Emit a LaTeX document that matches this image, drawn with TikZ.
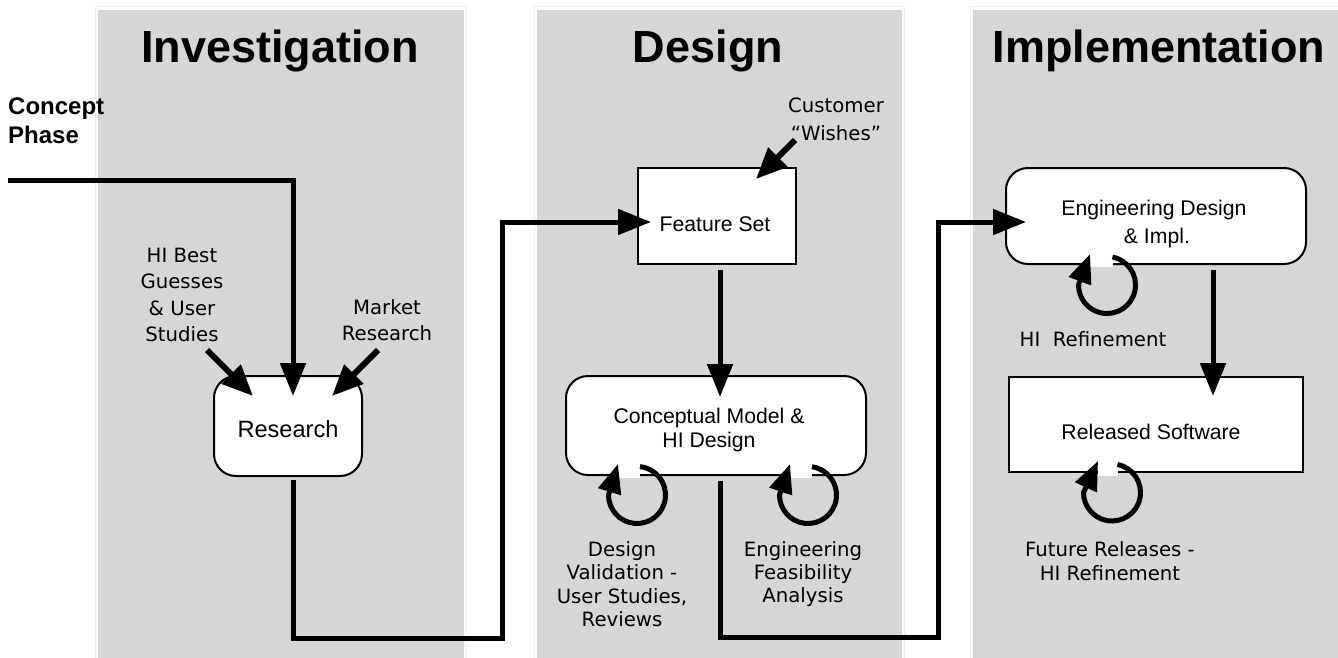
\documentclass[tikz,border=0pt]{standalone}
\usepackage{fontspec}
\setmainfont{Liberation Sans}
\newfontfamily\labfont{DejaVu Sans}
\usetikzlibrary{arrows.meta,calc}

\definecolor{panelgray}{HTML}{D6D6D6}
\definecolor{panelrim}{HTML}{EFEFEF}

\tikzset{
  panel/.style={fill=panelgray, draw=none},
  rim/.style={draw=panelrim, line width=1pt},
  phase/.style={font=\bfseries\fontsize{45}{54}\selectfont, anchor=base, inner sep=0},
  boxsq/.style={draw, line width=2pt, fill=white, inner sep=0},
  boxrd/.style={boxsq, rounded corners=22pt},
  boxtext/.style={font=\fontsize{21.2}{28}\selectfont, align=center, inner sep=0},
  lab/.style={font=\labfont\fontsize{19.7}{25}\selectfont, align=center, inner sep=0},
  flow/.style={line width=5pt, line join=miter, -{Triangle[length=33pt,width=25pt]}},
  feed/.style={line width=6pt, -{Triangle[length=31pt,width=26pt]}},
  selfarc/.style={line width=5pt, -{Triangle[length=29pt,width=23pt]}},
}

\begin{document}
\begin{tikzpicture}[x=1pt,y=-1pt]
\useasboundingbox (0,0) rectangle (1338,658);

% phase panels
\draw[rim] (95.5,7) rectangle (466.5,662);
\draw[rim] (534.5,7) rectangle (904.5,662);
\draw[rim] (970.5,7) rectangle (1342,662);
\fill[panel] (98,10) rectangle (464,658);
\fill[panel] (537,10) rectangle (902,658);
\fill[panel] (973,10) rectangle (1338,658);

\node[phase] (t-inv) at (280,63) {Investigation};
\node[phase] (t-des) at (708,63) {Design};
\node[phase] (t-imp) at (1159,63) {Implementation};

% boxes
\node[boxrd, minimum width=148pt, minimum height=100pt] (research) at (288,426) {};
\node[boxsq, minimum width=158pt, minimum height=96pt] (feature) at (717,216) {};
\node[boxrd, minimum width=300pt, minimum height=99pt] (concept) at (716,425.5) {};
\node[boxrd, minimum width=300pt, minimum height=96pt] (engdes) at (1156,216) {};
\node[boxsq, minimum width=294pt, minimum height=95pt] (released) at (1156,424.5) {};

\node[boxtext, font=\fontsize{23.6}{28}\selectfont] (research-t) at (288,429) {Research};
\node[boxtext] (feature-t) at (715,224) {Feature Set};
\node[boxtext, font=\fontsize{21.2}{24}\selectfont] (concept-t) at (709,430) {Conceptual Model \&\\HI Design};
\node[boxtext] (engdes-t) at (1154,224) {Engineering Design\\\ \& Impl.};
\node[boxtext] (released-t) at (1151,432) {Released Software};

% side labels
\node[anchor=base west, inner sep=0, font=\bfseries\fontsize{24}{29}\selectfont, align=left] (concept-phase) at (8,143) {Concept\\Phase};
\node[lab, font=\labfont\fontsize{19.7}{26.5}\selectfont] (hi-guess) at (182,295) {HI Best\\Guesses\\\& User\\Studies};
\node[lab, font=\labfont\fontsize{19.7}{26}\selectfont] (market) at (387,320) {Market\\Research};
\node[lab, font=\labfont\fontsize{19.7}{28}\selectfont] (wishes) at (836,119) {Customer\\“Wishes”};
\node[lab, font=\labfont\fontsize{19.7}{23.5}\selectfont] (validation) at (622,584) {Design\\Validation -\\User Studies,\\Reviews};
\node[lab, font=\labfont\fontsize{19.7}{23}\selectfont] (feasibility) at (803,574) {Engineering\\Feasibility\\Analysis};
\node[lab] (hi-refine) at (1093,339) {HI\ \ Refinement};
\node[lab, font=\labfont\fontsize{19.7}{24}\selectfont] (future) at (1110,561) {Future Releases -\\HI Refinement};

% free ends of the connectors
\coordinate (cp-start) at (8,180);
\coordinate (r2f-low) at (502,638);
\coordinate (c2e-low) at (938,637);
\coordinate (guess-tail) at (207,350);
\coordinate (market-tail) at (378,350);
\coordinate (wish-tail) at (795,140);

% main flow
\draw[flow] (cp-start) -| ([xshift=5pt,yshift=-21pt]research.north);
\draw[flow] ([xshift=5pt,yshift=-3pt]research.south) |- (r2f-low) |- ([xshift=14pt,yshift=-6pt]feature.west);
\draw[flow] ([xshift=3pt,yshift=-5pt]feature.south) -- ([xshift=4pt,yshift=-22pt]concept.north);
\draw[flow] ([xshift=4pt,yshift=-5pt]concept.south) |- (c2e-low) |- ([xshift=21pt,yshift=-6pt]engdes.west);
\draw[flow] ([xshift=57pt,yshift=-5pt]engdes.south) -- ([xshift=57pt,yshift=-20pt]released.north);

% inputs
\draw[feed] (guess-tail) -- ([xshift=-35pt,yshift=-21pt]research.north);
\draw[feed] (market-tail) -- ([xshift=44pt,yshift=-21pt]research.north);
\draw[feed] (wish-tail) -- ([xshift=39pt,yshift=-12pt]feature.north);

% iteration loops under the boxes
\coordinate (loop-val) at (637,495);
\coordinate (loop-fea) at (808,495);
\coordinate (loop-eng) at (1107,285);
\coordinate (loop-rel) at (1112,492.5);

\fill[white] ($(loop-val)+(-19,-23)$) rectangle ($(loop-val)+(3,-17)$);
\fill[white] ($(loop-fea)+(-18,-23)$) rectangle ($(loop-fea)+(4,-17)$);
\fill[white] ($(loop-eng)+(-17,-24)$) rectangle ($(loop-eng)+(6,-18)$);
\fill[white] ($(loop-rel)+(-14,-23)$) rectangle ($(loop-rel)+(6,-17)$);

\draw[selfarc] ([shift={(-84:28.5)}]loop-val) arc[start angle=-84, end angle=180, radius=28.5] -- ($(loop-val)+(-19,-31)$);
\draw[selfarc] ([shift={(-82:28.5)}]loop-fea) arc[start angle=-82, end angle=180, radius=28.5] -- ($(loop-fea)+(-18,-31)$);
\draw[selfarc] ([shift={(-79:28.5)}]loop-eng) arc[start angle=-79, end angle=180, radius=28.5] -- ($(loop-eng)+(-17,-31)$);
\draw[selfarc] ([shift={(-79:28.5)}]loop-rel) arc[start angle=-79, end angle=180, radius=28.5] -- ($(loop-rel)+(-14,-31.5)$);
\end{tikzpicture}
\end{document}
